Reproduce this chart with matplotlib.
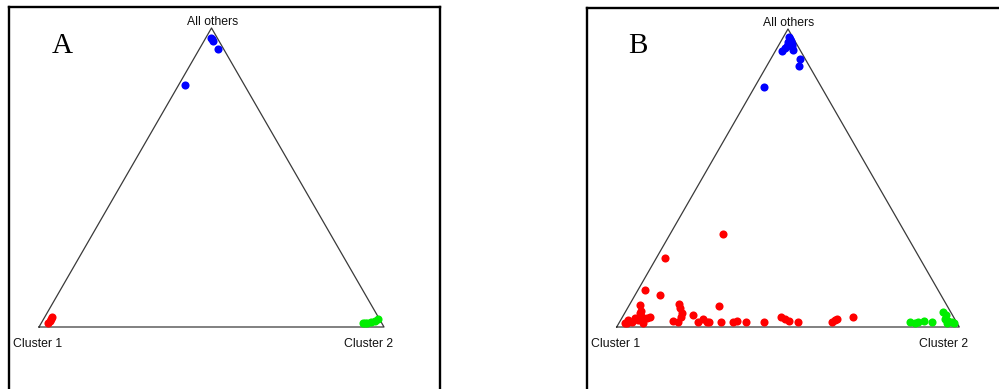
import numpy as np
import matplotlib
matplotlib.use("Agg")
import matplotlib.pyplot as plt

# ---- data: ternary shares (Cluster 2, All others); Cluster 1 = 1 - sum ----
a_blue_c2 = [0.021, 0.028, 0.015, 0.053, 0.018]
a_blue_ot = [0.962, 0.955, 0.967, 0.930, 0.809]
a_red_c2 = [0.0206, 0.0205, 0.0208, 0.020]
a_red_ot = [0.0324, 0.0217, 0.0124, 0.0268]
a_green_c2 = [0.9315, 0.943, 0.954, 0.9647, 0.969, 0.938]
a_green_ot = [0.015, 0.015, 0.0167, 0.0184, 0.0268, 0.0134]

b_blue_c2 = [0.017, 0.027, 0.023, 0.039, 0.048, 0.023, 0.0185, 0.026, 0.085, 0.0945, 0.028, 0.022, 0.036]
b_blue_ot = [0.973, 0.961, 0.956, 0.944, 0.931, 0.936, 0.926, 0.944, 0.900, 0.875, 0.806, 0.967, 0.951]
b_red_c2 = [0.153, 0.025, 0.022, 0.074, 0.032, 0.143, 0.264, 0.154, 0.203, 0.0425,
            0.017, 0.022, 0.035, 0.039, 0.051, 0.056, 0.066, 0.073, 0.081, 0.045,
            0.023, 0.070, 0.155, 0.171, 0.169, 0.167, 0.229, 0.240, 0.254, 0.262,
            0.295, 0.331, 0.340, 0.369, 0.4223, 0.463, 0.478, 0.493, 0.521, 0.619,
            0.625, 0.6285, 0.673]
b_red_ot = [0.313, 0.230, 0.123, 0.107, 0.074, 0.0785, 0.0708, 0.063, 0.0398, 0.055,
            0.0145, 0.0236, 0.0179, 0.0293, 0.0236, 0.0347, 0.0236, 0.0293, 0.0327, 0.0462,
            0.0125, 0.0145, 0.0212, 0.0179, 0.0347, 0.0462, 0.0179, 0.026, 0.0179, 0.0158,
            0.0179, 0.0179, 0.0212, 0.0168, 0.0168, 0.0327, 0.026, 0.0202, 0.0168, 0.0168,
            0.0236, 0.027, 0.0347]
b_green_c2 = [0.848, 0.863, 0.872, 0.888, 0.910, 0.928, 0.941, 0.945, 0.957, 0.969, 0.956, 0.977]
b_green_ot = [0.0158, 0.0145, 0.0158, 0.0192, 0.0179, 0.0495, 0.0404, 0.026, 0.0212, 0.0179, 0.0145, 0.0145]

vertex_labels = ["Cluster 1", "Cluster 2", "All others"]
panel_letters = ["A", "B"]

H = np.sqrt(3) / 2
W, HPX = 999, 389
fig = plt.figure(figsize=(W / 100, HPX / 100), dpi=100)


def to_xy(c2, ot):
    c2 = np.asarray(c2); ot = np.asarray(ot)
    return c2 + 0.5 * ot, ot * H


def panel(box, tri, letter, blue, red, green, letter_pos):
    L, R, T, B = box
    x0, x1, yb, ya = tri
    ax = fig.add_axes([L / W, 1 - B / HPX, (R - L) / W, (B - T) / HPX])
    xs = (x1 - x0)
    ys = (yb - ya) / H
    ax.set_xlim((L - x0) / xs, (R - x0) / xs)
    ax.set_ylim((yb - B) / ys, (yb - T) / ys)
    ax.set_xticks([]); ax.set_yticks([])
    for s in ax.spines.values():
        s.set_linewidth(1.7)
        s.set_color("black")
    ax.spines["bottom"].set_visible(False)
    ax.plot([0, 1, 0.5, 0], [0, 0, H, 0], color="#3a3a3a", lw=0.9, zorder=1)
    for (c2, ot), col in [(blue, "#0000ff"), (red, "#ff0000"), (green, "#00ee00")]:
        x, y = to_xy(c2, ot)
        ax.scatter(x, y, s=34, color=col, linewidths=0, zorder=3, clip_on=False)
    fs = 8.8
    ff = ["Liberation Sans", "DejaVu Sans"]
    ax.annotate(vertex_labels[2], (0.5, H), xytext=(1, 0), textcoords="offset pixels",
                ha="center", va="bottom", fontsize=fs, family=ff, color="#111111")
    ax.annotate(vertex_labels[0], (0, 0), xytext=(-1, -11), textcoords="offset pixels",
                ha="center", va="top", fontsize=fs, family=ff, color="#111111")
    ax.annotate(vertex_labels[1], (1, 0), xytext=(9, -11), textcoords="offset pixels",
                ha="right", va="top", fontsize=fs, family=ff, color="#111111")
    fig.text(letter_pos[0] / W, 1 - letter_pos[1] / HPX, letter, fontsize=21,
             family=["Liberation Serif", "DejaVu Serif"], ha="left", va="baseline")
    return ax


panel((9, 440, 7, 400), (39, 384, 327, 28), panel_letters[0],
      (a_blue_c2, a_blue_ot), (a_red_c2, a_red_ot), (a_green_c2, a_green_ot), (52, 53))
panel((587, 1020, 7.7, 400), (616.7, 959.3, 327, 29), panel_letters[1],
      (b_blue_c2, b_blue_ot), (b_red_c2, b_red_ot), (b_green_c2, b_green_ot), (628, 53))

fig.savefig("out.png", dpi=100)
